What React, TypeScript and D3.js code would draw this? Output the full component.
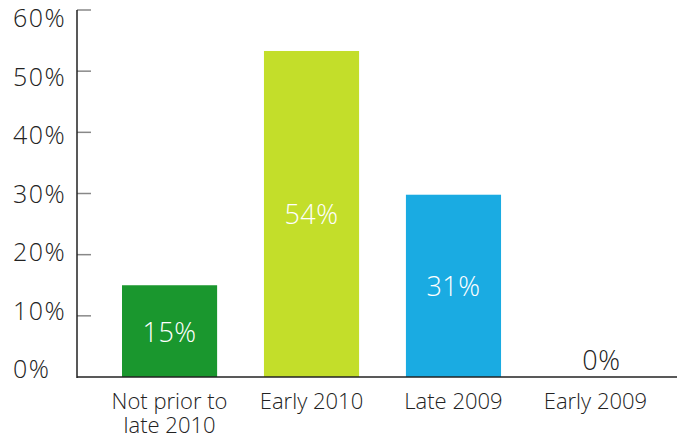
import React from "react";
import * as d3 from "d3";

const categories: string[][] = [["Not prior to", "late 2010"], ["Early 2010"], ["Late 2009"], ["Early 2009"]];
const values: number[] = [15, 53.3, 29.8, 0];
const valueLabels: string[] = ["15%", "54%", "31%", "0%"];
const colors: string[] = ["#1a972e", "#c3de2a", "#1aabe2", "#1aabe2"];
const ticks: number[] = [0, 10, 20, 30, 40, 50, 60];

const W = 684, H = 439;
const FONT = "'Open Sans', 'DejaVu Sans', sans-serif";

export default function App() {
  const y = d3.scaleLinear().domain([0, 60]).range([377, 10]);
  const yLabel = d3.scaleLinear().domain([0, 60]).range([378, 27]);
  const x = d3.scaleBand<number>().domain(d3.range(categories.length)).range([77, 688]).paddingInner(0.33).paddingOuter(0.317);
  const axisX = 77;
  return (
    <svg width={W} height={H} style={{ position: "absolute", left: 0, top: 0, background: "#fff" }} fontFamily={FONT}>
      {ticks.map((t) => (
        <g key={t}>
          {t > 0 && <line x1={axisX} x2={axisX + 14} y1={y(t)} y2={y(t)} stroke="#888" strokeWidth={1.5} />}
          <text x={13} y={yLabel(t)} fontSize={25} fontWeight={300} letterSpacing={1.5} fill="#222">{t}%</text>
        </g>
      ))}
      {values.map((v, i) => (
        <rect key={i} x={x(i)} y={y(v)} width={x.bandwidth()} height={y(0) - y(v)} fill={colors[i]} />
      ))}
      <line x1={axisX} x2={axisX} y1={y(60)} y2={y(0) + 1} stroke="#222" strokeWidth={1.5} />
      <line x1={axisX} x2={677} y1={y(0)} y2={y(0)} stroke="#222" strokeWidth={1.5} />
      {values.map((v, i) => {
        const cx = (x(i) as number) + x.bandwidth() / 2;
        const inside = v > 5;
        return (
          <text key={i} x={inside ? cx : cx + 6} y={inside ? (y(v) + y(0)) / 2 : y(0) - 7}
            textAnchor="middle" dominantBaseline={inside ? "central" : "auto"}
            fontSize={27} fontWeight={300} letterSpacing={0.5} fill={inside ? "#fff" : "#222"}>{valueLabels[i]}</text>
        );
      })}
      {categories.map((lines, i) => {
        const cx = (x(i) as number) + x.bandwidth() / 2;
        return (
          <text key={i} textAnchor="middle" fontSize={22} fontWeight={300} fill="#222">
            {lines.map((l, j) => (
              <tspan key={j} x={cx} y={409 + j * 24}>{l}</tspan>
            ))}
          </text>
        );
      })}
    </svg>
  );
}
